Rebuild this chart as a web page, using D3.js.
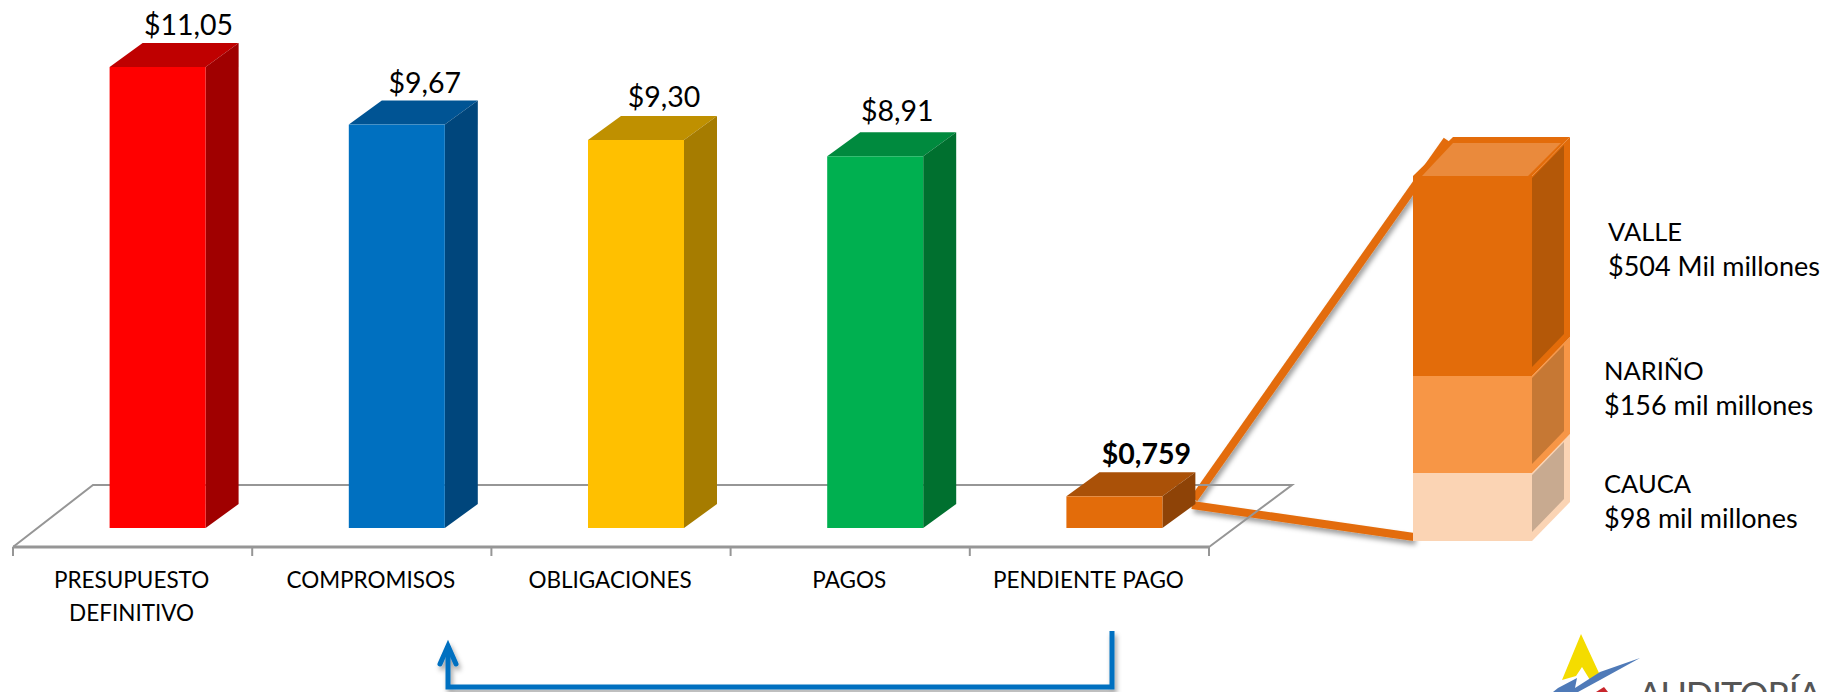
<!DOCTYPE html>
<html>
<head>
<meta charset="utf-8">
<script src="https://cdn.jsdelivr.net/npm/d3@7"></script>
<style>
  html, body { margin: 0; padding: 0; background: #fff; overflow: hidden; }
  svg { display: block; }
  text { font-family: Lato, "Open Sans", sans-serif; fill: #000; }
</style>
</head>
<body>
<div id="chartDiv"></div>
<script>
// values (billions)
const categories = ["PRESUPUESTO DEFINITIVO", "COMPROMISOS", "OBLIGACIONES", "PAGOS", "PENDIENTE PAGO"];
const values = [11.05, 9.67, 9.30, 8.91, 0.759];
const valueLabels = ["$11,05", "$9,67", "$9,30", "$8,91", "$0,759"];

// breakdown of the pending amount, bottom to top (mil millones)
const regions = ["CAUCA", "NARIÑO", "VALLE"];
const regionValues = [98, 156, 504];
const regionLabels = ["$98 mil millones", "$156 mil millones", "$504 Mil millones"];

const frontColors = ["#ff0000", "#0070c0", "#ffc000", "#00b050", "#e36c0a"];
const topColors = ["#bf0000", "#005494", "#bf9000", "#008a3e", "#aa5108"];
const sideColors = ["#a00000", "#00467c", "#a67c00", "#00702f", "#8e4307"];
const regionFront = ["#fbd4b4", "#f79646", "#e36c0a"];
const regionSide = ["#c8aa90", "#c67834", "#b45808"];

const width = 1824, height = 692;
const svg = d3.select("#chartDiv").append("svg")
    .attr("width", width)
    .attr("height", height);

const defs = svg.append("defs");
const shadow = defs.append("filter").attr("id", "shadow")
    .attr("filterUnits", "userSpaceOnUse")
    .attr("x", 0).attr("y", 0).attr("width", width).attr("height", height);
shadow.append("feDropShadow")
    .attr("dx", 2).attr("dy", 4).attr("stdDeviation", 2.5)
    .attr("flood-color", "#000").attr("flood-opacity", 0.38);

const poly = pts => pts.map(p => p.join(",")).join(" ");

// scales
const floorY = 547, baseY = 528;
const x = d3.scaleBand().domain(categories).range([13, 1209]);
const y = d3.scaleLinear().domain([0, 11.05]).range([baseY, 67]);
const barW = 96, depthX = 33, depthY = 24;
const barLeft = c => x(c) + x.step() / 2 - barW / 2 + 25;

// connectors go under the floor and the bars
const link = svg.append("g").attr("fill", "none").attr("stroke", "#e36c0a")
    .attr("stroke-width", 8).attr("filter", "url(#shadow)");
link.append("path").attr("d", "M1194,499L1447,140");
link.append("path").attr("d", "M1192,505L1414,537");

// floor
const floor = svg.append("g").attr("fill", "none").attr("stroke", "#969696");
floor.append("polyline").attr("stroke-width", 2)
    .attr("points", poly([[13, floorY], [93, 485], [1292, 485], [1209, floorY]]));
floor.append("line").attr("stroke-width", 3)
    .attr("x1", 13).attr("x2", 1209).attr("y1", floorY).attr("y2", floorY);
floor.selectAll("line.tick")
    .data(d3.range(categories.length + 1))
    .enter().append("line")
    .attr("class", "tick")
    .attr("stroke-width", 2)
    .attr("x1", i => 13 + i * x.step())
    .attr("x2", i => 13 + i * x.step())
    .attr("y1", floorY)
    .attr("y2", floorY + 9);

// category labels from the axis, wrapped by hand
const axis = svg.append("g")
    .attr("transform", "translate(0," + floorY + ")")
    .call(d3.axisBottom(x).tickSize(0).tickFormat(""));
axis.select(".domain").remove();
axis.selectAll(".tick").each(function(c) {
  const words = c === "PRESUPUESTO DEFINITIVO" ? c.split(" ") : [c];
  const t = d3.select(this).select("text")
      .attr("y", 41).attr("dy", null)
      .style("font-size", "22.5px").style("fill", "#000");
  words.forEach((w, i) => {
    t.append("tspan").attr("x", -1).attr("y", 41 + i * 33).text(w);
  });
});

// 3D bars
const bars = svg.append("g").selectAll("g")
    .data(categories)
    .enter().append("g");
bars.append("polygon")
    .attr("fill", (c, i) => topColors[i])
    .attr("points", (c, i) => {
      const l = barLeft(c), t = y(values[i]);
      return poly([[l, t], [l + depthX, t - depthY], [l + barW + depthX, t - depthY], [l + barW, t]]);
    });
bars.append("polygon")
    .attr("fill", (c, i) => sideColors[i])
    .attr("points", (c, i) => {
      const r = barLeft(c) + barW, t = y(values[i]);
      return poly([[r, t], [r + depthX, t - depthY], [r + depthX, baseY - depthY], [r, baseY]]);
    });
bars.append("rect")
    .attr("fill", (c, i) => frontColors[i])
    .attr("x", c => barLeft(c))
    .attr("y", (c, i) => y(values[i]))
    .attr("width", barW)
    .attr("height", (c, i) => baseY - y(values[i]));

const labelShift = [79, 76, 76, 70, 80];
const labelRise = [8, 8, 9, 11, 8];
bars.append("text")
    .attr("text-anchor", "middle")
    .attr("x", (c, i) => barLeft(c) + labelShift[i])
    .attr("y", (c, i) => y(values[i]) - depthY - labelRise[i])
    .style("font-size", "28.5px")
    .style("font-weight", (c, i) => i === 4 ? 700 : 400)
    .text((c, i) => valueLabels[i]);

// stacked detail column, heights are not proportional in the source
const cum = d3.cumsum(regionValues);
const yStack = d3.scaleLinear().domain([0, cum[0], cum[1], cum[2]]).range([541, 473, 376, 176]);
const sx0 = 1413, sx1 = 1532, outerDx = 38, outerDy = 39, innerDx = 32, innerDy = 33;

const stack = svg.append("g");
regions.forEach((r, i) => {
  const y0 = yStack(i ? cum[i - 1] : 0), y1 = yStack(cum[i]);
  // outer band in the segment colour, darker side inset into it
  stack.append("polygon")
      .attr("fill", regionFront[i])
      .attr("points", poly([[sx1, y0], [sx1 + outerDx, y0 - outerDy], [sx1 + outerDx, y1 - outerDy], [sx1, y1]]));
  stack.append("polygon")
      .attr("fill", regionSide[i])
      .attr("points", poly([[sx1, y0 - 9], [sx1 + innerDx, y0 - 9 - innerDy], [sx1 + innerDx, y1 + 2 - innerDy], [sx1, y1 + 2]]));
});
const topY = yStack(cum[2]);
stack.append("polygon")
    .attr("fill", "#e36c0a")
    .attr("points", poly([[sx0, topY], [sx0 + 40, topY - outerDy], [sx1 + outerDx, topY - outerDy], [sx1, topY]]));
stack.append("polygon")
    .attr("fill", "#ea8a3c")
    .attr("points", poly([[sx0 + 9, topY], [sx0 + 40, topY - innerDy], [sx1 + 29, topY - innerDy], [sx1 - 4, topY]]));
regions.forEach((r, i) => {
  const y0 = yStack(i ? cum[i - 1] : 0), y1 = yStack(cum[i]);
  stack.append("rect")
      .attr("fill", regionFront[i])
      .attr("x", sx0).attr("width", sx1 - sx0)
      .attr("y", y1).attr("height", y0 - y1);
});

const regionX = [1604, 1604, 1608];
const regionNameY = [493, 380, 241];
const regionValueY = [528, 415, 276];
regions.forEach((r, i) => {
  stack.append("text").attr("x", regionX[i]).attr("y", regionNameY[i])
      .style("font-size", "25.5px").text(r);
  stack.append("text").attr("x", regionX[i]).attr("y", regionValueY[i])
      .style("font-size", "27px").text(regionLabels[i]);
});

// blue arrow under the axis
const arrow = svg.append("g").attr("fill", "none").attr("stroke", "#0070c0")
    .attr("stroke-width", 5).attr("filter", "url(#shadow)");
arrow.append("path").attr("d", "M1112,631V687H448V646");
arrow.append("path").attr("stroke-linecap", "round").attr("stroke-linejoin", "miter")
    .attr("d", "M440,664L448,646L456,664");

// logo, cut by the page edge
const logo = svg.append("g");
logo.append("polygon").attr("fill", "#f4dc00")
    .attr("points", poly([[1581, 634], [1599, 673], [1590, 680], [1582, 667], [1576, 676], [1562, 680]]));
logo.append("polygon").attr("fill", "#4f7ab8")
    .attr("points", poly([[1640, 658], [1600, 680], [1578, 692], [1553, 692], [1558, 688], [1577, 678], [1575, 688], [1600, 672]]));
logo.append("polygon").attr("fill", "#c8262c")
    .attr("points", poly([[1604, 687], [1596, 692], [1608, 692]]));
logo.append("text").attr("x", 1638).attr("y", 708)
    .attr("textLength", 184)
    .style("font-size", "36px").style("fill", "#555")
    .text("AUDITORÍA");
</script>
</body>
</html>
